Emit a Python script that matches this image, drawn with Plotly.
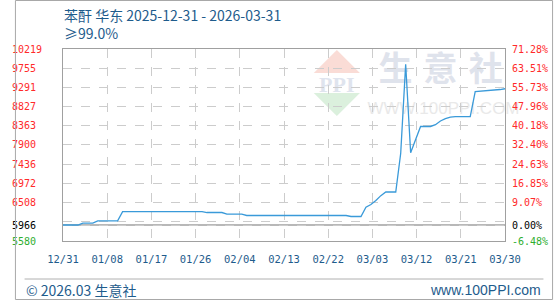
import pandas as pd
import plotly.graph_objects as go

# ---------------- data ----------------
start_date = "2025-12-31"
end_date = "2026-03-30"
prices = [
    5966, 5966, 5966, 5966,                     # 12/31 - 01/03
    6012, 6012, 6012,                           # 01/04 - 01/06
    6068, 6068, 6068, 6068, 6068,               # 01/07 - 01/11
    6290, 6290, 6290, 6290, 6290, 6290, 6290, 6290, 6290,
    6290, 6290, 6290, 6290, 6290, 6290, 6290, 6290,   # 01/12 - 01/28
    6268, 6268, 6268, 6268,                     # 01/29 - 02/01
    6228, 6228, 6228, 6228,                     # 02/02 - 02/05
    6196, 6196, 6196, 6196, 6196, 6196, 6196, 6196, 6196, 6196, 6196,
    6196, 6196, 6196, 6196, 6196, 6196, 6196, 6196, 6196, 6196,  # 02/06 - 02/26
    6172, 6172, 6172,                           # 02/27 - 03/01
    6396, 6460, 6560, 6676,                     # 03/02 - 03/05
    6764, 6764, 6764,                           # 03/06 - 03/08
    7700, 9850, 7713, 8030,                     # 03/09 - 03/12
    8347, 8347, 8347,                           # 03/13 - 03/15
    8390, 8480, 8537, 8574,                     # 03/16 - 03/19
    8587, 8587, 8587, 8587,                     # 03/20 - 03/23
    9187, 9195, 9205, 9215, 9225, 9240, 9259,   # 03/24 - 03/30
]
dates = pd.date_range(start_date, end_date, freq="D")

y_ticks = [5580, 5966, 6044, 6508, 6972, 7436, 7900, 8363, 8827, 9291, 9755, 10219]
y_left_labels = ["5580", "5966", "", "6508", "6972", "7436", "7900", "8363",
                 "8827", "9291", "9755", "10219"]
y_right_labels = ["-6.48%", "0.00%", "", "9.07%", "16.85%", "24.63%", "32.40%",
                  "40.18%", "47.96%", "55.73%", "63.51%", "71.28%"]

x_ticks = ["2025-12-31", "2026-01-08 21:36", "2026-01-17 19:12", "2026-01-26 16:48",
           "2026-02-04 14:24", "2026-02-13 12:00", "2026-02-22 09:36", "2026-03-03 07:12",
           "2026-03-12 04:48", "2026-03-21 02:24", "2026-03-30"]
x_labels = ["12/31", "01/08", "01/17", "01/26", "02/04", "02/13", "02/22",
            "03/03", "03/12", "03/21", "03/30"]

title_text = "苯酐 华东 2025-12-31 - 2026-03-31"
sub_text = "≥99.0%"
footer_left = "© 2026.03 生意社"
footer_right = "www.100PPI.com"

# ---------------- styling ----------------
W, H = 560, 300
ML, MR, MT, MB = 50, 50, 49, 59
PW, PH = W - ML - MR, H - MT - MB
BLUE = "#1e5c8c"
LINE = "#3a9ad9"
RED = "#ff2a2a"
GREEN = "#2fae2f"
MONO = "DejaVu Sans Mono"
CJK = "Noto Sans CJK SC"

base = prices[0]


def px(x):
    return (x - ML) / PW


def py(y):
    return (H - MB - y) / PH


def colored(label, value, pad=False):
    if label == "":
        return ""
    c = RED if value > base else ("#000000" if value == base else GREEN)
    txt = label + ("\u00a0" * (5 - len(label)) if pad else "")
    return f'<span style="color:{c}">{txt}</span>'


left_text = [colored(l, v, pad=True) for l, v in zip(y_left_labels, y_ticks)]
right_text = [colored(l, v) for l, v in zip(y_right_labels, y_ticks)]

fig = go.Figure()
fig.add_trace(go.Scatter(x=dates, y=prices, mode="lines",
                         line=dict(color=LINE, width=1.3), hoverinfo="skip",
                         showlegend=False))
fig.add_trace(go.Scatter(x=dates, y=prices, mode="lines", yaxis="y2",
                         line=dict(color="rgba(0,0,0,0)", width=0), hoverinfo="skip",
                         showlegend=False))

axis_common = dict(showline=True, linecolor="#a0a0a0", linewidth=1, ticks="",
                   zeroline=False)

fig.update_layout(
    width=W, height=H,
    margin=dict(l=ML, r=MR, t=MT, b=MB, pad=0),
    paper_bgcolor="white", plot_bgcolor="white",
    showlegend=False,
    xaxis=dict(type="date", range=[start_date, end_date], tickvals=x_ticks,
               ticktext=x_labels, showgrid=True, gridcolor="#cccccc", griddash="dash",
               gridwidth=1, mirror=True, tickfont=dict(family=MONO, size=10.5, color=BLUE),
               ticklabelstandoff=8, **axis_common),
    yaxis=dict(range=[y_ticks[0], y_ticks[-1]], tickvals=y_ticks, ticktext=left_text,
               showgrid=True, gridcolor="#cccccc", griddash="dash", gridwidth=1,
               mirror=True, tickfont=dict(family=MONO, size=10, color=RED),
               ticklabelstandoff=18, **axis_common),
    yaxis2=dict(range=[y_ticks[0], y_ticks[-1]], tickvals=y_ticks, ticktext=right_text,
                overlaying="y", side="right", showgrid=False,
                tickfont=dict(family=MONO, size=10, color=RED),
                ticklabelstandoff=6, showline=False, ticks="", zeroline=False),
)

shapes = []
# watermark logo (pink and green triangles)
shapes.append(dict(type="path", xref="paper", yref="paper", layer="below",
                   path=f"M {px(335)},{py(50)} L {px(311)},{py(73)} L {px(359)},{py(73)} Z",
                   fillcolor="#fadcd6", line=dict(width=0)))
shapes.append(dict(type="path", xref="paper", yref="paper", layer="below",
                   path=f"M {px(311)},{py(93)} L {px(359)},{py(93)} L {px(335)},{py(116)} Z",
                   fillcolor="#dbf0dd", line=dict(width=0)))


# watermark texts as shape labels, drawn below the grid
def wm(x0, y0, x1, y1, text, size, color, family=CJK, weight="bold"):
    shapes.append(dict(type="rect", xref="paper", yref="paper", layer="below",
                       x0=px(x0), x1=px(x1), y0=py(y1), y1=py(y0),
                       line=dict(width=0), fillcolor="rgba(0,0,0,0)",
                       label=dict(text=text, textposition="middle center",
                                  font=dict(size=size, color=color, family=family,
                                            weight=weight))))


wm(311, 73, 359, 91, "PPI", 22, "#dfe4ee", family="Liberation Serif")
wm(380, 52, 412, 90, "生", 34, "#dfe3ec")
wm(427, 52, 459, 90, "意", 34, "#dfe3ec")
wm(474, 52, 506, 90, "社", 34, "#dfe3ec")
wm(382, 98, 510, 114, "WWW.100PPI.COM", 17, "#e9e9e9", family="Liberation Sans",
   weight="normal")

# base line (0%)
shapes.append(dict(type="line", xref="paper", yref="y", x0=0, x1=1, y0=base, y1=base,
                   line=dict(color="#a0a0a0", width=1.3), layer="between"))
# footer separator
shapes.append(dict(type="line", xref="paper", yref="paper", x0=px(10), x1=px(550),
                   y0=py(279), y1=py(279), line=dict(color="#b0b0b0", width=1)))
# outer frame
shapes.append(dict(type="rect", xref="paper", yref="paper", x0=px(0.5), x1=px(559.5),
                   y0=py(299.5), y1=py(0.5), line=dict(color="#a8a8a8", width=1)))
fig.update_layout(shapes=shapes)

ann = [
    dict(text=title_text, x=px(49), y=py(15), xanchor="left", yanchor="middle",
         font=dict(family=CJK, size=14, color=BLUE)),
    dict(text=sub_text, x=px(49), y=py(33), xanchor="left", yanchor="middle",
         font=dict(family=CJK, size=14, color=BLUE)),
    dict(text=footer_left, x=px(9), y=py(290), xanchor="left", yanchor="middle",
         font=dict(family=CJK, size=14, color=BLUE)),
    dict(text=footer_right, x=px(550), y=py(290), xanchor="right", yanchor="middle",
         font=dict(family="Liberation Sans", size=14, color=BLUE)),
]
for a in ann:
    a.update(xref="paper", yref="paper", showarrow=False)
fig.update_layout(annotations=ann)

fig.write_html("out.html")
